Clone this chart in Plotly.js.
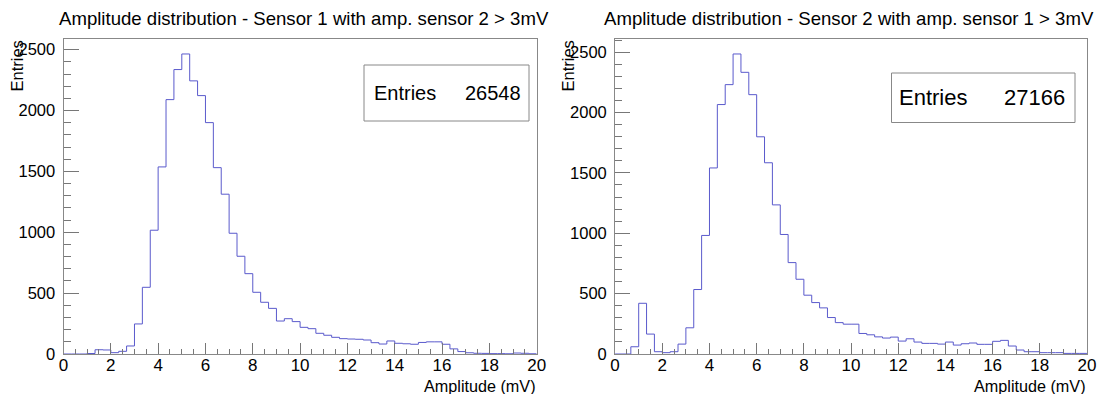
<!DOCTYPE html>
<html>
<head>
<meta charset="utf-8">
<script src="https://cdn.plot.ly/plotly-3.0.1.min.js"></script>
<style>html,body{margin:0;padding:0;background:#fff;}#chart{width:1099px;height:394px;}</style>
</head>
<body>
<div id="chart"></div>
<script>
// ---- Data ----
const xMin = 0, xMax = 20, nBins = 60;
const plotTitles = [
  "Amplitude distribution - Sensor 1 with amp. sensor 2 > 3mV",
  "Amplitude distribution - Sensor 2 with amp. sensor 1 > 3mV"
];
const xAxisTitle = "Amplitude (mV)";
const yAxisTitle = "Entries";
const entries = [26548, 27166];
const sensor1Counts = [0,0,0,4,35,33,11,22,66,247,548,1017,1537,2090,2337,2465,2244,2123,1901,1531,
  1313,992,803,660,507,425,375,271,290,266,219,208,170,154,137,126,123,121,115,93,
  82,107,88,84,80,95,100,100,80,42,20,10,6,5,3,3,2,8,6,2];
const sensor2Counts = [0,0,60,420,165,19,11,19,82,217,534,982,1541,2066,2231,2485,2333,2148,1799,1584,
  1235,990,757,619,487,426,382,302,260,247,247,170,159,142,132,140,107,126,99,88,
  88,82,99,74,85,91,80,80,105,113,66,33,19,19,11,11,11,5,5,5];

// ---- Layout helpers ----
const W = 1099, H = 394;
const px = x => x / W;
const py = y => 1 - y / H;

function histTrace(counts, xa, ya) {
  const bw = (xMax - xMin) / nBins;
  const xs = [], ys = [];
  for (let i = 0; i < counts.length; i++) { xs.push(xMin + i * bw); ys.push(counts[i]); }
  xs.push(xMax); ys.push(counts[counts.length - 1]);
  return {x: xs, y: ys, type: 'scatter', mode: 'lines', line: {shape: 'hv', color: '#5a5acc', width: 1},
    xaxis: xa, yaxis: ya, hoverinfo: 'skip', showlegend: false};
}

const font = {family: 'Liberation Sans, Arial, sans-serif', color: '#000'};
function xAx(domain) {
  return {domain: domain, range: [xMin, xMax], dtick: 2, tick0: 0, ticks: 'inside', ticklen: 11, tickcolor: '#777', tickwidth: 1,
    minor: {dtick: 0.5, ticks: 'inside', ticklen: 5.5, tickcolor: '#777', tickwidth: 1},
    showline: true, linecolor: '#888', linewidth: 1, mirror: true, showgrid: false, zeroline: false,
    tickfont: Object.assign({size: 17}, font), ticklabelstandoff: -4, fixedrange: true};
}
function yAx(domain, anchor, maxv) {
  return {domain: domain, anchor: anchor, range: [0, maxv], dtick: 500, ticks: 'inside', ticklen: 15, tickcolor: '#777', tickwidth: 1,
    minor: {dtick: 100, ticks: 'inside', ticklen: 7, tickcolor: '#777', tickwidth: 1},
    showline: true, linecolor: '#888', linewidth: 1, mirror: true, showgrid: false, zeroline: false,
    tickfont: Object.assign({size: 16.5}, font), ticklabelstandoff: 4, fixedrange: true};
}

const yDom = [py(354), py(39)];
const L = {x0: 63.5, x1: 536.7}, R = {x0: 615.1, x1: 1087};

const layout = {
  width: W, height: H, margin: {l: 0, r: 0, t: 0, b: 0}, paper_bgcolor: '#fff', plot_bgcolor: '#fff',
  showlegend: false,
  xaxis: Object.assign(xAx([px(L.x0), px(L.x1)]), {anchor: 'y'}),
  yaxis: yAx(yDom, 'x', 2588),
  xaxis2: Object.assign(xAx([px(R.x0), px(R.x1)]), {anchor: 'y2'}),
  yaxis2: yAx(yDom, 'x2', 2609),
  shapes: [
    {type: 'rect', xref: 'paper', yref: 'paper', x0: px(364), x1: px(529), y0: py(121), y1: py(65), line: {color: '#888', width: 1}, fillcolor: '#fff'},
    {type: 'rect', xref: 'paper', yref: 'paper', x0: px(891.5), x1: px(1075), y0: py(122.5), y1: py(73), line: {color: '#888', width: 1}, fillcolor: '#fff'}
  ],
  annotations: [
    {text: plotTitles[0], xref: 'paper', yref: 'paper', x: px(304), y: py(18), xanchor: 'center', yanchor: 'middle', showarrow: false, font: Object.assign({size: 18.6}, font)},
    {text: plotTitles[1], xref: 'paper', yref: 'paper', x: px(849), y: py(18), xanchor: 'center', yanchor: 'middle', showarrow: false, font: Object.assign({size: 18.6}, font)},
    {text: yAxisTitle, xref: 'paper', yref: 'paper', x: px(16), y: py(39), xanchor: 'center', yanchor: 'top', textangle: -90, showarrow: false, font: Object.assign({size: 16.5}, font)},
    {text: yAxisTitle, xref: 'paper', yref: 'paper', x: px(567), y: py(39), xanchor: 'center', yanchor: 'top', textangle: -90, showarrow: false, font: Object.assign({size: 16.5}, font)},
    {text: xAxisTitle, xref: 'paper', yref: 'paper', x: px(L.x1 + 1), y: py(386), xanchor: 'right', yanchor: 'middle', showarrow: false, font: Object.assign({size: 16.2}, font)},
    {text: xAxisTitle, xref: 'paper', yref: 'paper', x: px(R.x1 + 1), y: py(386), xanchor: 'right', yanchor: 'middle', showarrow: false, font: Object.assign({size: 16.2}, font)},
    {text: 'Entries', xref: 'paper', yref: 'paper', x: px(372), y: py(93), xanchor: 'left', yanchor: 'middle', showarrow: false, font: Object.assign({size: 20}, font)},
    {text: String(entries[0]), xref: 'paper', yref: 'paper', x: px(523), y: py(93), xanchor: 'right', yanchor: 'middle', showarrow: false, font: Object.assign({size: 20}, font)},
    {text: 'Entries', xref: 'paper', yref: 'paper', x: px(897), y: py(98), xanchor: 'left', yanchor: 'middle', showarrow: false, font: Object.assign({size: 22}, font)},
    {text: String(entries[1]), xref: 'paper', yref: 'paper', x: px(1067), y: py(98), xanchor: 'right', yanchor: 'middle', showarrow: false, font: Object.assign({size: 22}, font)}
  ]
};

Plotly.newPlot('chart', [histTrace(sensor1Counts, 'x', 'y'), histTrace(sensor2Counts, 'x2', 'y2')], layout, {displayModeBar: false, staticPlot: true});
</script>
</body>
</html>
